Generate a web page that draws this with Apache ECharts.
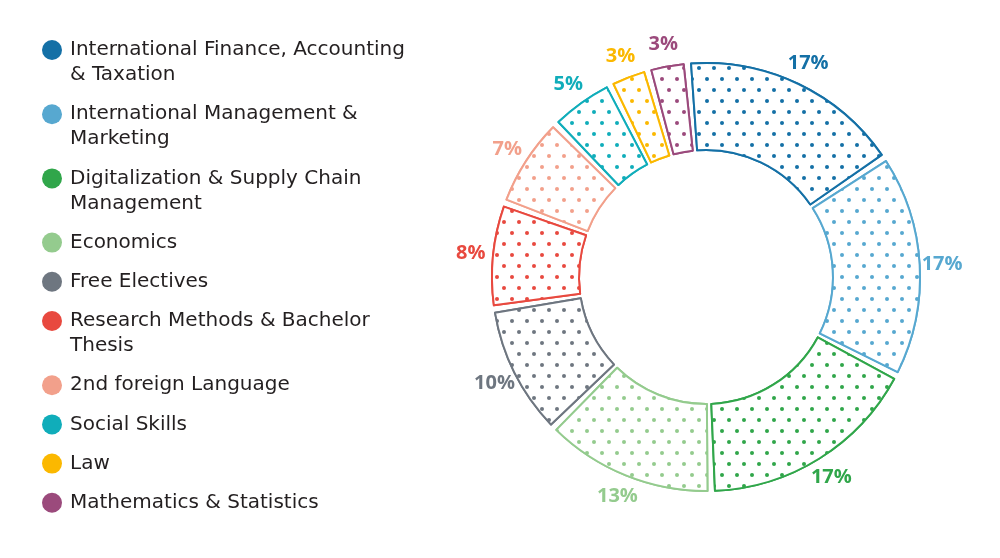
<!DOCTYPE html>
<html>
<head>
<meta charset="utf-8">
<style>
  html, body { margin: 0; padding: 0; background: #fff; }
  #chart { width: 1000px; height: 558px; }
</style>
<script src="https://cdn.jsdelivr.net/npm/echarts@6/dist/echarts.min.js"></script>
</head>
<body>
<div id="chart"></div>
<script>
// 分类名称
const categories = [
  'International Finance, Accounting & Taxation',
  'International Management & Marketing',
  'Digitalization & Supply Chain Management',
  'Economics',
  'Free Electives',
  'Research Methods & Bachelor Thesis',
  '2nd foreign Language',
  'Social Skills',
  'Law',
  'Mathematics & Statistics'
];
// 图例中的换行文本
const legendText = [
  'International Finance, Accounting\n& Taxation',
  'International Management &\nMarketing',
  'Digitalization & Supply Chain\nManagement',
  'Economics',
  'Free Electives',
  'Research Methods & Bachelor\nThesis',
  '2nd foreign Language',
  'Social Skills',
  'Law',
  'Mathematics & Statistics'
];
// 百分比
const shares = [17, 17, 17, 13, 10, 8, 7, 5, 3, 3];
const colors = [
  '#1470a6', '#57a8d0', '#30a64a', '#94cb8e', '#6e7680',
  '#e8493f', '#f2a08b', '#10adba', '#fbb800', '#9b4a7c'
];

const LEGEND_FONT = '"DejaVu Sans", sans-serif';
const LABEL_FONT = '"Open Sans", sans-serif';
const LINE_H = 25;

// 交错排列的圆点纹理
function dots(color) {
  return {
    symbol: 'circle',
    color: color,
    backgroundColor: '#fff',
    symbolSize: 1,
    dashArrayX: [[4, 11], [0, 7, 4, 4]],
    dashArrayY: [4, 7]
  };
}

// 每个图例项单独放置，圆点与首行文字对齐
const legends = [];
let iconY = 50;
categories.forEach((name, i) => {
  const lines = legendText[i].split('\n').length;
  const blank = '\n'.repeat(lines - 1);
  legends.push({
    left: 42,
    top: iconY - (2 * lines - 1) * LINE_H / 2,
    padding: 0,
    orient: 'vertical',
    itemWidth: 26,
    itemHeight: 20,
    selectedMode: false,
    data: [{
      name: name,
      icon: 'circle',
      itemStyle: { color: colors[i], borderWidth: 0, decal: 'none' }
    }],
    formatter: () => blank + legendText[i],
    textStyle: { fontFamily: LEGEND_FONT, fontSize: 20, lineHeight: LINE_H, color: '#231f20' }
  });
  iconY += 39.2 + LINE_H * (lines - 1);
});

const chart = echarts.init(document.getElementById('chart'));
chart.setOption({
  backgroundColor: '#fff',
  animation: false,
  legend: legends,
  series: [
    {
      type: 'pie',
      center: [706, 277],
      radius: [127, 214],
      startAngle: 95,
      padAngle: 2,
      silent: true,
      avoidLabelOverlap: false,
      label: { show: false },
      labelLine: { show: false },
      data: categories.map((name, i) => ({
        name: name,
        value: shares[i],
        itemStyle: {
          color: '#fff',
          borderColor: colors[i],
          borderWidth: 2,
          decal: dots(colors[i])
        }
      }))
    },
    {
      // 外圈透明环，只用来放百分比标签
      type: 'pie',
      center: [706, 277],
      radius: [214, 253],
      startAngle: 95,
      silent: true,
      avoidLabelOverlap: false,
      itemStyle: { color: 'transparent', borderWidth: 0 },
      label: {
        show: true,
        position: 'inside',
        formatter: '{c}%',
        fontFamily: LABEL_FONT,
        fontWeight: 'bold',
        fontSize: 20,
        textBorderWidth: 0
      },
      labelLine: { show: false },
      data: categories.map((name, i) => ({
        name: name,
        value: shares[i],
        label: { color: colors[i] }
      }))
    }
  ]
});
</script>
</body>
</html>
